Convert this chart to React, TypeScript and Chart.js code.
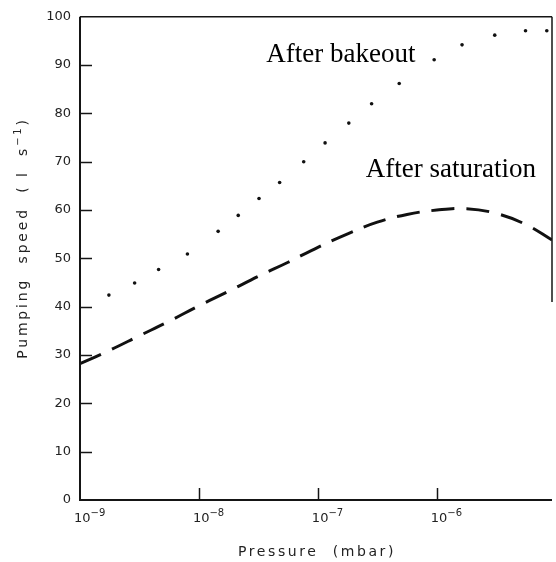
import React, { useEffect, useRef } from "react";
import { Chart, registerables } from "chart.js";

Chart.register(...registerables);

// After bakeout (dotted points): pressure (mbar) and pumping speed (l/s)
const bakeoutPressure = [
  1.75e-9, 2.88e-9, 4.58e-9, 8.0e-9, 1.45e-8, 2.14e-8, 3.2e-8, 4.77e-8, 7.6e-8,
  1.15e-7, 1.82e-7, 2.83e-7, 4.83e-7, 9.5e-7, 1.63e-6, 3.07e-6, 5.57e-6, 8.41e-6,
];
const bakeoutSpeed = [
  42.4, 44.9, 47.7, 50.9, 55.6, 58.9, 62.4, 65.7, 70.0, 73.9, 78.0, 82.0, 86.2,
  91.1, 94.2, 96.2, 97.1, 97.1,
];

// After saturation (dashed curve)
const saturationPressure = [
  1e-9, 1.78e-9, 3.16e-9, 5.62e-9, 1e-8, 1.78e-8, 3.16e-8, 5.62e-8, 1e-7,
  1.78e-7, 3.16e-7, 5.62e-7, 1e-6, 1.78e-6, 3.16e-6, 5.62e-6, 9.3e-6,
];
const saturationSpeed = [
  28.2, 31.0, 34.0, 37.0, 40.2, 43.2, 46.3, 49.2, 52.3, 55.1, 57.5, 59.1, 60.0,
  60.3, 59.3, 57.0, 53.8,
];

const xTickValues = [1e-9, 1e-8, 1e-7, 1e-6];
const xTickExponents = ["−9", "−8", "−7", "−6"];
const yTickValues = [0, 10, 20, 30, 40, 50, 60, 70, 80, 90, 100];

const annotationTexts = ["After bakeout", "After saturation"];
const annotationPressure = [3.68e-8, 2.53e-7];
const annotationSpeed = [90.7, 66.9];

const xTitle = "Pressure  (mbar)";
const yTitleMain = "Pumping  speed  ( l  s";
const yTitleSup = "−1";
const yTitleEnd = ")";

const X_MIN = 1e-9;
const X_MAX = 9.3e-6;

const framePlugin = {
  id: "framePlugin",
  afterDraw(chart: any) {
    const ctx = chart.ctx as CanvasRenderingContext2D;
    const { left, right, top, bottom } = chart.chartArea;
    const xs = chart.scales.x;
    const ys = chart.scales.y;
    ctx.save();
    ctx.strokeStyle = "#151515";
    ctx.lineCap = "butt";
    // frame
    ctx.lineWidth = 2;
    ctx.beginPath();
    ctx.moveTo(left, top);
    ctx.lineTo(left, bottom);
    ctx.lineTo(right, bottom);
    ctx.stroke();
    ctx.lineWidth = 1.5;
    ctx.beginPath();
    ctx.moveTo(left, top);
    ctx.lineTo(right, top);
    ctx.stroke();
    ctx.beginPath();
    ctx.moveTo(right, top);
    ctx.lineTo(right, ys.getPixelForValue(41));
    ctx.stroke();
    // inner ticks
    ctx.lineWidth = 1.5;
    yTickValues.forEach((v) => {
      if (v === 0 || v === 100) return;
      const y = Math.round(ys.getPixelForValue(v)) + 0.5;
      ctx.beginPath();
      ctx.moveTo(left, y);
      ctx.lineTo(left + 12, y);
      ctx.stroke();
    });
    xTickValues.forEach((v, i) => {
      if (i === 0) return;
      const x = Math.round(xs.getPixelForValue(v)) + 0.5;
      ctx.beginPath();
      ctx.moveTo(x, bottom);
      ctx.lineTo(x, bottom - 12);
      ctx.stroke();
    });
    // x tick labels with superscripts
    ctx.fillStyle = "#222";
    ctx.textBaseline = "alphabetic";
    ctx.textAlign = "left";
    xTickValues.forEach((v, i) => {
      const x = xs.getPixelForValue(v);
      ctx.font = "13px 'DejaVu Sans'";
      ctx.fillText("10", x - 6, bottom + 22);
      const w = ctx.measureText("10").width;
      ctx.font = "10px 'DejaVu Sans'";
      ctx.fillText(xTickExponents[i], x - 6 + w, bottom + 16);
    });
    // x title
    ctx.font = "14px 'DejaVu Sans'";
    (ctx as any).letterSpacing = "2.6px";
    ctx.textAlign = "center";
    ctx.fillText(xTitle, (left + right) / 2 + 1, bottom + 56);
    // y title (rotated)
    ctx.translate(22, 238);
    ctx.rotate(-Math.PI / 2);
    ctx.textAlign = "left";
    (ctx as any).letterSpacing = "2.8px";
    ctx.font = "14px 'DejaVu Sans'";
    const w1 = ctx.measureText(yTitleMain).width;
    ctx.font = "10px 'DejaVu Sans'";
    const w2 = ctx.measureText(yTitleSup).width;
    ctx.font = "14px 'DejaVu Sans'";
    const w3 = ctx.measureText(yTitleEnd).width;
    const total = w1 + w2 + w3;
    let cx = -total / 2;
    ctx.fillText(yTitleMain, cx, 5);
    cx += w1;
    ctx.font = "10px 'DejaVu Sans'";
    ctx.fillText(yTitleSup, cx, -1);
    cx += w2;
    ctx.font = "14px 'DejaVu Sans'";
    ctx.fillText(yTitleEnd, cx, 5);
    ctx.restore();

    // annotations
    ctx.save();
    ctx.fillStyle = "#000";
    ctx.font = "27px 'Liberation Serif'";
    ctx.textAlign = "left";
    ctx.textBaseline = "alphabetic";
    annotationTexts.forEach((t, i) => {
      ctx.fillText(
        t,
        xs.getPixelForValue(annotationPressure[i]),
        ys.getPixelForValue(annotationSpeed[i])
      );
    });
    ctx.restore();
  },
};

export default function App() {
  const canvasRef = useRef<HTMLCanvasElement | null>(null);

  useEffect(() => {
    if (!canvasRef.current) return;
    const chart = new Chart(canvasRef.current, {
      type: "scatter",
      data: {
        datasets: [
          {
            label: "After bakeout",
            data: bakeoutPressure.map((p, i) => ({ x: p, y: bakeoutSpeed[i] })),
            pointRadius: 1.8,
            pointBackgroundColor: "#111",
            pointBorderWidth: 0,
            showLine: false,
          },
          {
            label: "After saturation",
            data: saturationPressure.map((p, i) => ({ x: p, y: saturationSpeed[i] })),
            showLine: true,
            borderColor: "#111",
            borderWidth: 3,
            borderDash: [23, 12],
            pointRadius: 0,
            tension: 0.4,
            fill: false,
          },
        ],
      },
      options: {
        animation: false,
        responsive: false,
        maintainAspectRatio: false,
        devicePixelRatio: 1,
        layout: { padding: { left: 0, right: 2, top: 14, bottom: 0 } },
        plugins: {
          legend: { display: false },
          tooltip: { enabled: false },
          title: { display: false },
        },
        scales: {
          x: {
            type: "logarithmic",
            min: X_MIN,
            max: X_MAX,
            grid: { display: false, drawTicks: false },
            border: { display: false },
            ticks: { display: false },
            afterFit: (scale: any) => {
              scale.height = 62;
            },
          },
          y: {
            type: "linear",
            min: 0,
            max: 100,
            grid: { display: false, drawTicks: false },
            border: { display: false },
            ticks: {
              stepSize: 10,
              padding: 9,
              color: "#222",
              font: { family: "'DejaVu Sans'", size: 13 },
            },
            afterBuildTicks: (scale: any) => {
              scale.ticks = yTickValues.map((v) => ({ value: v }));
            },
            afterFit: (scale: any) => {
              scale.width = 80;
            },
          },
        },
      },
      plugins: [framePlugin],
    });
    return () => chart.destroy();
  }, []);

  return (
    <div style={{ position: "absolute", left: 0, top: 0, width: 556, height: 562, background: "#fff" }}>
      <canvas ref={canvasRef} width={556} height={562} style={{ width: 556, height: 562, display: "block" }} />
    </div>
  );
}
